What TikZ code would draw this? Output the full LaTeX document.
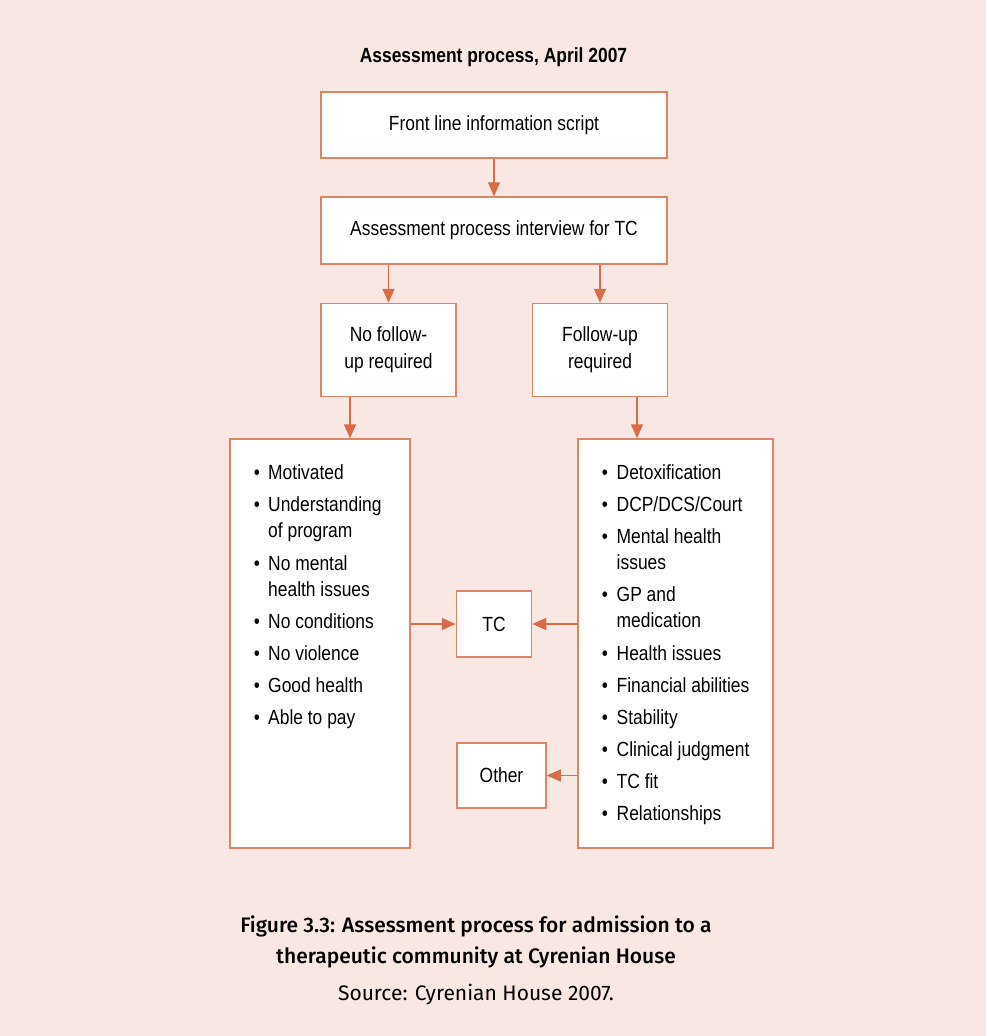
\documentclass[tikz,border=0pt]{standalone}
\usepackage{fontspec}
\usetikzlibrary{arrows.meta, positioning}
\newfontfamily\diagfont[FakeStretch=0.85]{Liberation Sans}
\newfontfamily\capfont{Fira Sans}
\newfontfamily\capfontmed{Fira Sans Medium}
\definecolor{pagebg}{RGB}{248,231,226}
\definecolor{boxline}{RGB}{222,133,103}
\definecolor{arrowline}{RGB}{216,108,72}

\begin{document}
\begin{tikzpicture}[x=1pt, y=-1pt,
    box/.style={draw=boxline, line width=1.5pt, fill=white, inner sep=0pt,
        align=center, font=\diagfont\fontsize{20.5}{27}\selectfont},
    flow/.style={draw=arrowline, line width=1.5pt, -{Triangle[length=14pt, width=12pt]}},
    item/.style={anchor=base west, inner sep=0pt, font=\diagfont\fontsize{20.5}{27}\selectfont},
    bul/.style={anchor=base, inner sep=0pt, font=\diagfont\fontsize{20.5}{27}\selectfont}]
    % Page background
    \fill[pagebg] (0,0) rectangle (986,1036);
    \useasboundingbox (0,0) rectangle (986,1036);

    % Title
    \node[anchor=base, inner sep=0pt, font=\diagfont\bfseries\fontsize{20.5}{27}\selectfont]
        (title) at (493.5,62) {Assessment process, April 2007};

    % Main flow boxes
    \node[box, minimum width=346pt, minimum height=66pt] (script) at (494,125) {Front line information script};
    \node[box, minimum width=346pt, minimum height=67pt] (interview) at (494,230.5) {Assessment process interview for TC};
    \node[box, minimum width=135pt, minimum height=93pt] (nofollow) at (388.5,350) {No follow-\\up required};
    \node[box, minimum width=135pt, minimum height=93pt] (follow) at (600,350) {Follow-up\\required};

    % List boxes
    \node[box, minimum width=180pt, minimum height=409pt] (leftlist) at (320,643.5) {};
    \node[box, minimum width=195pt, minimum height=409pt] (rightlist) at (675.5,643.5) {};

    % Outcome boxes
    \node[box, minimum width=75pt, minimum height=66pt] (tc) at (494,624) {TC};
    \node[box, minimum width=89pt, minimum height=65pt] (other) at (501.5,775.5) {Other};

    % Left list items
    \foreach \b/\txt/\yy [count=\i] in {1/Motivated/479, 1/Understanding/511.5, 0/of program/537.5,
        1/No mental/570, 0/health issues/596, 1/No conditions/628.5, 1/No violence/660.5,
        1/Good health/692.5, 1/Able to pay/724.5} {
        \node[item] (left\i) at (268,\yy) {\txt};
        \ifnum\b=1 \node[bul] (leftb\i) at (257,\yy) {•}; \fi
    }

    % Right list items
    \foreach \b/\txt/\yy [count=\i] in {1/Detoxification/479, 1/DCP\slash DCS\slash Court/511.5,
        1/Mental health/543, 0/issues/569.5, 1/GP and/601.5, 0/medication/627.5,
        1/Health issues/660, 1/Financial abilities/692, 1/Stability/724, 1/Clinical judgment/756,
        1/TC fit/788, 1/Relationships/820} {
        \node[item] (right\i) at (616.5,\yy) {\txt};
        \ifnum\b=1 \node[bul] (rightb\i) at (605,\yy) {•}; \fi
    }

    % Connectors
    \draw[flow] (script) -- (interview);
    \draw[flow] (interview.south -| nofollow) -- (nofollow.north);
    \draw[flow] (interview.south -| follow) -- (follow.north);
    \draw[flow] ([xshift=-38.5pt]nofollow.south) -- ([xshift=-38.5pt]nofollow.south |- leftlist.north);
    \draw[flow] ([xshift=37pt]follow.south) -- ([xshift=37pt]follow.south |- rightlist.north);
    \draw[flow] (leftlist.east |- tc) -- (tc.west);
    \draw[flow] (rightlist.west |- tc) -- (tc.east);
    \draw[flow] (rightlist.west |- other) -- (other.east);

    % Caption
    \node[anchor=base, inner sep=0pt, font=\capfontmed\fontsize{21}{28}\selectfont]
        (cap1) at (476,932) {Figure 3.3: Assessment process for admission to a};
    \node[anchor=base, inner sep=0pt, font=\capfontmed\fontsize{21}{28}\selectfont]
        (cap2) at (476,963) {therapeutic community at Cyrenian House};
    \node[anchor=base, inner sep=0pt, font=\capfont\fontsize{21}{28}\selectfont]
        (source) at (476,1000) {Source: Cyrenian House 2007.};
\end{tikzpicture}
\end{document}
